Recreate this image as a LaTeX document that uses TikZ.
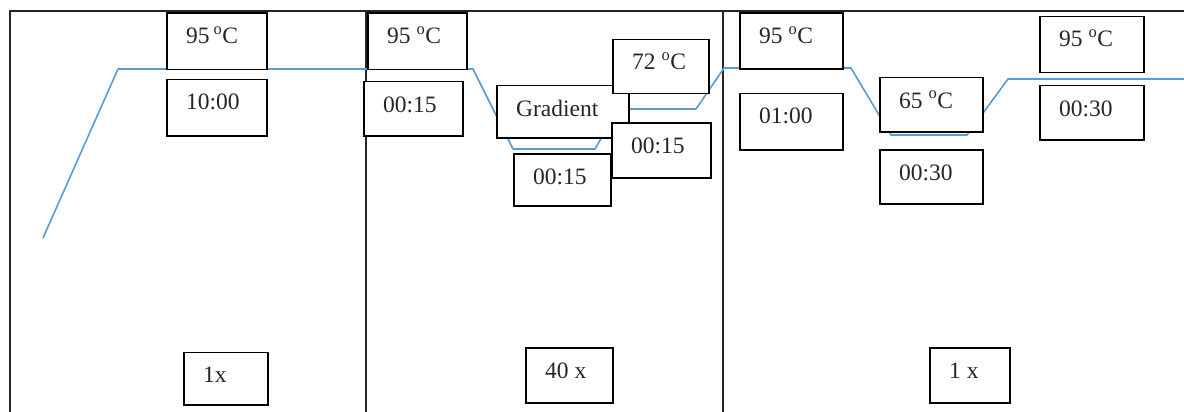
\documentclass[tikz,border=0pt]{standalone}
\usepackage{fontspec}
\setmainfont{Liberation Serif}
\definecolor{profile}{RGB}{91,155,213}
\newcommand\degsym{\textsuperscript{o}}
% stepbox: name, left, top, width, height, label text
\newcommand\stepbox[6]{%
  \node[box, minimum width=#4pt, minimum height=#5pt, anchor=north west] (#1) at (#2,#3) {};
  \node[lbl, anchor=base west] (#1-t) at ([xshift=20pt,yshift=-31pt]#1.north west) {#6};
}
\begin{document}
\begin{tikzpicture}[x=1pt,y=-1pt,
  box/.style={draw=black, fill=white, line width=1.5pt, inner sep=0pt},
  lbl/.style={inner sep=0pt, font=\fontsize{23.5}{28}\selectfont, text=black!85},
  frame/.style={draw=black!85, line width=1.3pt},
  curve/.style={draw=profile, line width=1.6pt, line join=round}]
\useasboundingbox (0,0) rectangle (1184,412);

% outline of the three program stages
\draw[frame] (10,412) -- (10,11) -- (1184,11);
\draw[frame] (366,11) -- (366,412);
\draw[frame] (723,11) -- (723,412);

% temperature profile
\draw[curve] (43,238) -- (118,69) -- (473,69) -- (513,149) -- (595,149)
  -- (618,109) -- (696,109) -- (724,68) -- (851,68) -- (891,135)
  -- (967,135) -- (1008,79) -- (1184,79);

% stage 1: initial denaturation
\stepbox{a95}{166}{12.5}{100}{56.5}{95\,\degsym C}
\stepbox{a10}{166}{79}{100}{56}{10:00}
\stepbox{acyc}{183}{351.5}{84}{52.5}{1x}

% stage 2: cycling
\stepbox{b95}{367}{12.5}{99}{56.5}{95 \degsym C}
\stepbox{b15}{363}{81}{99}{54}{00:15}
\stepbox{bgr}{496}{85}{132}{52}{Gradient}
\stepbox{b72}{612}{39}{96}{54}{72 \degsym C}
\stepbox{b15r}{611}{122}{99}{55}{00:15}
\stepbox{b15b}{513}{153}{97}{52}{00:15}
\stepbox{bcyc}{525}{347}{87}{55}{40 x}

% stage 3: final steps
\stepbox{c95}{739}{12.5}{103}{56}{95 \degsym C}
\stepbox{c01}{739}{93}{103}{56}{01:00}
\stepbox{c65}{879}{77}{103}{54}{65 \degsym C}
\stepbox{c30}{879}{149}{103}{54}{00:30}
\stepbox{c95r}{1039}{16}{104}{56}{95 \degsym C}
\stepbox{c30r}{1039}{85}{104}{54}{00:30}
\stepbox{ccyc}{929}{347}{80}{55}{1 x}
\end{tikzpicture}
\end{document}
